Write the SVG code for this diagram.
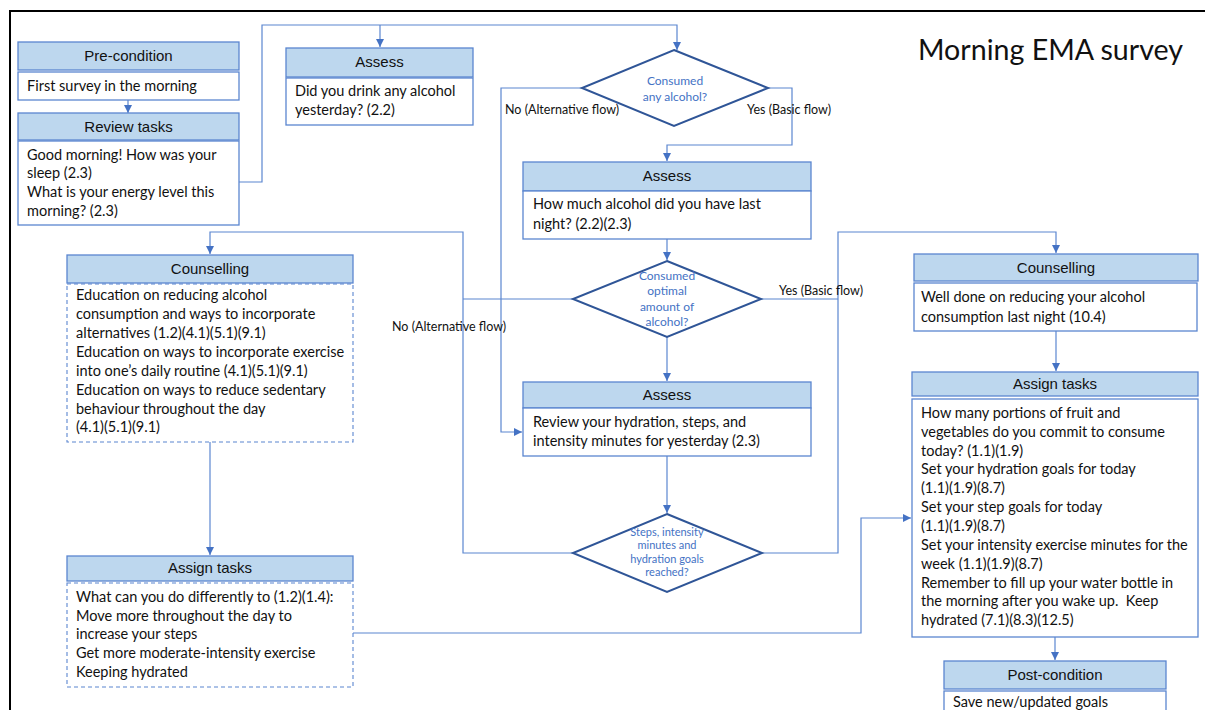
<svg xmlns="http://www.w3.org/2000/svg" width="1205" height="710" viewBox="0 0 1205 710">
<style>
.hd{fill:#BDD7EE;stroke:#5B86D0;stroke-width:1.3}
.bd{fill:#fff;stroke:#5B86D0;stroke-width:1.3}
.bdd{fill:#fff;stroke:#5B86D0;stroke-width:1.1;stroke-dasharray:4 3}
.dm{fill:#fff;stroke:#2F5597;stroke-width:2}
.ht{font-family:"Liberation Sans",Arial,sans-serif;font-size:15px;fill:#111;text-anchor:middle}
.bt{font-family:Lato,"Liberation Sans",sans-serif;font-size:14.5px;fill:#111}
.dt{font-family:Lato,"Liberation Sans",sans-serif;font-size:12px;fill:#4472C4;text-anchor:middle}
.lb{font-family:Lato,"Liberation Sans",sans-serif;font-size:12.5px;fill:#111}
.cn{fill:none;stroke:#5B86D0;stroke-width:1.2}
</style>
<defs>
<marker id="ah" viewBox="0 0 10 10" refX="10" refY="5" markerWidth="8" markerHeight="8" markerUnits="userSpaceOnUse" orient="auto">
<path d="M0,0 L10,5 L0,10 z" fill="#4472C4"/>
</marker>
</defs>
<rect x="10" y="11" width="1300" height="800" fill="none" stroke="#000" stroke-width="2"/>
<text x="918" y="60" style="font-family:Lato,'Liberation Sans',sans-serif;font-size:28.6px;fill:#111">Morning EMA survey</text>

<g id="connectors">
<path class="cn" d="M128,100 V113" marker-end="url(#ah)"/>
<path class="cn" d="M239,182 H262 V25 H677 V50" marker-end="url(#ah)"/>
<path class="cn" d="M380,25 V47" marker-end="url(#ah)"/>
<path class="cn" d="M582,88 H501 V432 H522" marker-end="url(#ah)"/>
<path class="cn" d="M768,88 H792 V145 H667 V161" marker-end="url(#ah)"/>
<path class="cn" d="M667,239 V260" marker-end="url(#ah)"/>
<path class="cn" d="M667,337 V381" marker-end="url(#ah)"/>
<path class="cn" d="M573,299 H463"/>
<path class="cn" d="M761,299 H838"/>
<path class="cn" d="M667,456 V513" marker-end="url(#ah)"/>
<path class="cn" d="M573,553 H463 V232 H210 V254" marker-end="url(#ah)"/>
<path class="cn" d="M762,553 H838 V232 H1056 V253" marker-end="url(#ah)"/>
<path class="cn" d="M210,442 V555" marker-end="url(#ah)"/>
<path class="cn" d="M353,633 H861 V518 H911" marker-end="url(#ah)"/>
<path class="cn" d="M1056,331 V371" marker-end="url(#ah)"/>
<path class="cn" d="M1055,637 V660" marker-end="url(#ah)"/>
<text class="lb" x="505" y="114">No (Alternative flow)</text>
<text class="lb" x="747" y="114">Yes (Basic flow)</text>
<text class="lb" x="779" y="295">Yes (Basic flow)</text>
<text class="lb" x="392" y="331">No (Alternative flow)</text>
</g>

<g id="precondition">
<rect class="hd" x="18" y="42" width="221" height="28"/>
<text class="ht" x="128.5" y="61">Pre-condition</text>
<rect class="bd" x="18" y="72" width="221" height="28"/>
<text class="bt" x="27" y="91">First survey in the morning</text>
</g>

<g id="review-tasks">
<rect class="hd" x="18" y="113" width="221" height="27"/>
<text class="ht" x="128.5" y="132">Review tasks</text>
<rect class="bd" x="18" y="141" width="221" height="84"/>
<text class="bt" x="27" y="160">Good morning! How was your</text>
<text class="bt" x="27" y="178">sleep (2.3)</text>
<text class="bt" x="27" y="197">What is your energy level this</text>
<text class="bt" x="27" y="216">morning? (2.3)</text>
</g>

<g id="assess-1">
<rect class="hd" x="286" y="48" width="187" height="29"/>
<text class="ht" x="379.5" y="67">Assess</text>
<rect class="bd" x="286" y="78" width="187" height="47"/>
<text class="bt" x="295" y="96">Did you drink any alcohol</text>
<text class="bt" x="295" y="115">yesterday? (2.2)</text>
</g>

<g id="decision-1">
<polygon class="dm" points="674,50 768,88 674,126 582,88"/>
<text class="dt" x="675" y="85">Consumed</text>
<text class="dt" x="675" y="101">any alcohol?</text>
</g>

<g id="assess-2">
<rect class="hd" x="523" y="162" width="288" height="29"/>
<text class="ht" x="667" y="181">Assess</text>
<rect class="bd" x="523" y="191" width="288" height="48"/>
<text class="bt" x="533" y="209">How much alcohol did you have last</text>
<text class="bt" x="533" y="229">night? (2.2)(2.3)</text>
</g>

<g id="decision-2">
<polygon class="dm" points="667,261 761,299 667,337 573,299"/>
<text class="dt" x="667" y="280">Consumed</text>
<text class="dt" x="667" y="295">optimal</text>
<text class="dt" x="667" y="311">amount of</text>
<text class="dt" x="667" y="326">alcohol?</text>
</g>

<g id="assess-3">
<rect class="hd" x="523" y="382" width="288" height="26"/>
<text class="ht" x="667" y="400">Assess</text>
<rect class="bd" x="523" y="408" width="288" height="48"/>
<text class="bt" x="533" y="427">Review your hydration, steps, and</text>
<text class="bt" x="533" y="446">intensity minutes for yesterday (2.3)</text>
</g>

<g id="decision-3">
<polygon class="dm" points="667,514 762,553 667,592 573,553"/>
<text class="dt" x="667" y="536" style="font-size:11px">Steps, intensity</text>
<text class="dt" x="667" y="549" style="font-size:11px">minutes and</text>
<text class="dt" x="667" y="563" style="font-size:11px">hydration goals</text>
<text class="dt" x="667" y="576" style="font-size:11px">reached?</text>
</g>

<g id="counselling-left">
<rect class="hd" x="67" y="255" width="286" height="28"/>
<text class="ht" x="210" y="274">Counselling</text>
<rect class="bdd" x="67" y="284" width="286" height="158"/>
<text class="bt" x="76" y="300">Education on reducing alcohol</text>
<text class="bt" x="76" y="319">consumption and ways to incorporate</text>
<text class="bt" x="76" y="338">alternatives (1.2)(4.1)(5.1)(9.1)</text>
<text class="bt" x="76" y="357">Education on ways to incorporate exercise</text>
<text class="bt" x="76" y="376">into one’s daily routine (4.1)(5.1)(9.1)</text>
<text class="bt" x="76" y="395">Education on ways to reduce sedentary</text>
<text class="bt" x="76" y="414">behaviour throughout the day</text>
<text class="bt" x="76" y="432">(4.1)(5.1)(9.1)</text>
</g>

<g id="assign-left">
<rect class="hd" x="67" y="556" width="286" height="25"/>
<text class="ht" x="210" y="573">Assign tasks</text>
<rect class="bdd" x="67" y="583" width="286" height="104"/>
<text class="bt" x="76" y="602">What can you do differently to (1.2)(1.4):</text>
<text class="bt" x="76" y="621">Move more throughout the day to</text>
<text class="bt" x="76" y="639">increase your steps</text>
<text class="bt" x="76" y="658">Get more moderate-intensity exercise</text>
<text class="bt" x="76" y="677">Keeping hydrated</text>
</g>

<g id="counselling-right">
<rect class="hd" x="914" y="254" width="284" height="27"/>
<text class="ht" x="1056" y="273">Counselling</text>
<rect class="bd" x="914" y="283" width="283" height="48"/>
<text class="bt" x="921" y="302">Well done on reducing your alcohol</text>
<text class="bt" x="921" y="322">consumption last night (10.4)</text>
</g>

<g id="assign-right">
<rect class="hd" x="912" y="372" width="286" height="24"/>
<text class="ht" x="1055" y="389">Assign tasks</text>
<rect class="bd" x="912" y="399" width="286" height="238"/>
<text class="bt" x="921" y="418">How many portions of fruit and</text>
<text class="bt" x="921" y="437">vegetables do you commit to consume</text>
<text class="bt" x="921" y="456">today? (1.1)(1.9)</text>
<text class="bt" x="921" y="474">Set your hydration goals for today</text>
<text class="bt" x="921" y="493">(1.1)(1.9)(8.7)</text>
<text class="bt" x="921" y="512">Set your step goals for today</text>
<text class="bt" x="921" y="531">(1.1)(1.9)(8.7)</text>
<text class="bt" x="921" y="550">Set your intensity exercise minutes for the</text>
<text class="bt" x="921" y="569">week (1.1)(1.9)(8.7)</text>
<text class="bt" x="921" y="588">Remember to fill up your water bottle in</text>
<text class="bt" x="921" y="606" xml:space="preserve">the morning after you wake up.  Keep</text>
<text class="bt" x="921" y="625">hydrated (7.1)(8.3)(12.5)</text>
</g>

<g id="postcondition">
<rect class="hd" x="944" y="661" width="222" height="28"/>
<text class="ht" x="1055" y="680">Post-condition</text>
<rect class="bd" x="944" y="691" width="222" height="40"/>
<text class="bt" x="953" y="707">Save new/updated goals</text>
</g>
</svg>
